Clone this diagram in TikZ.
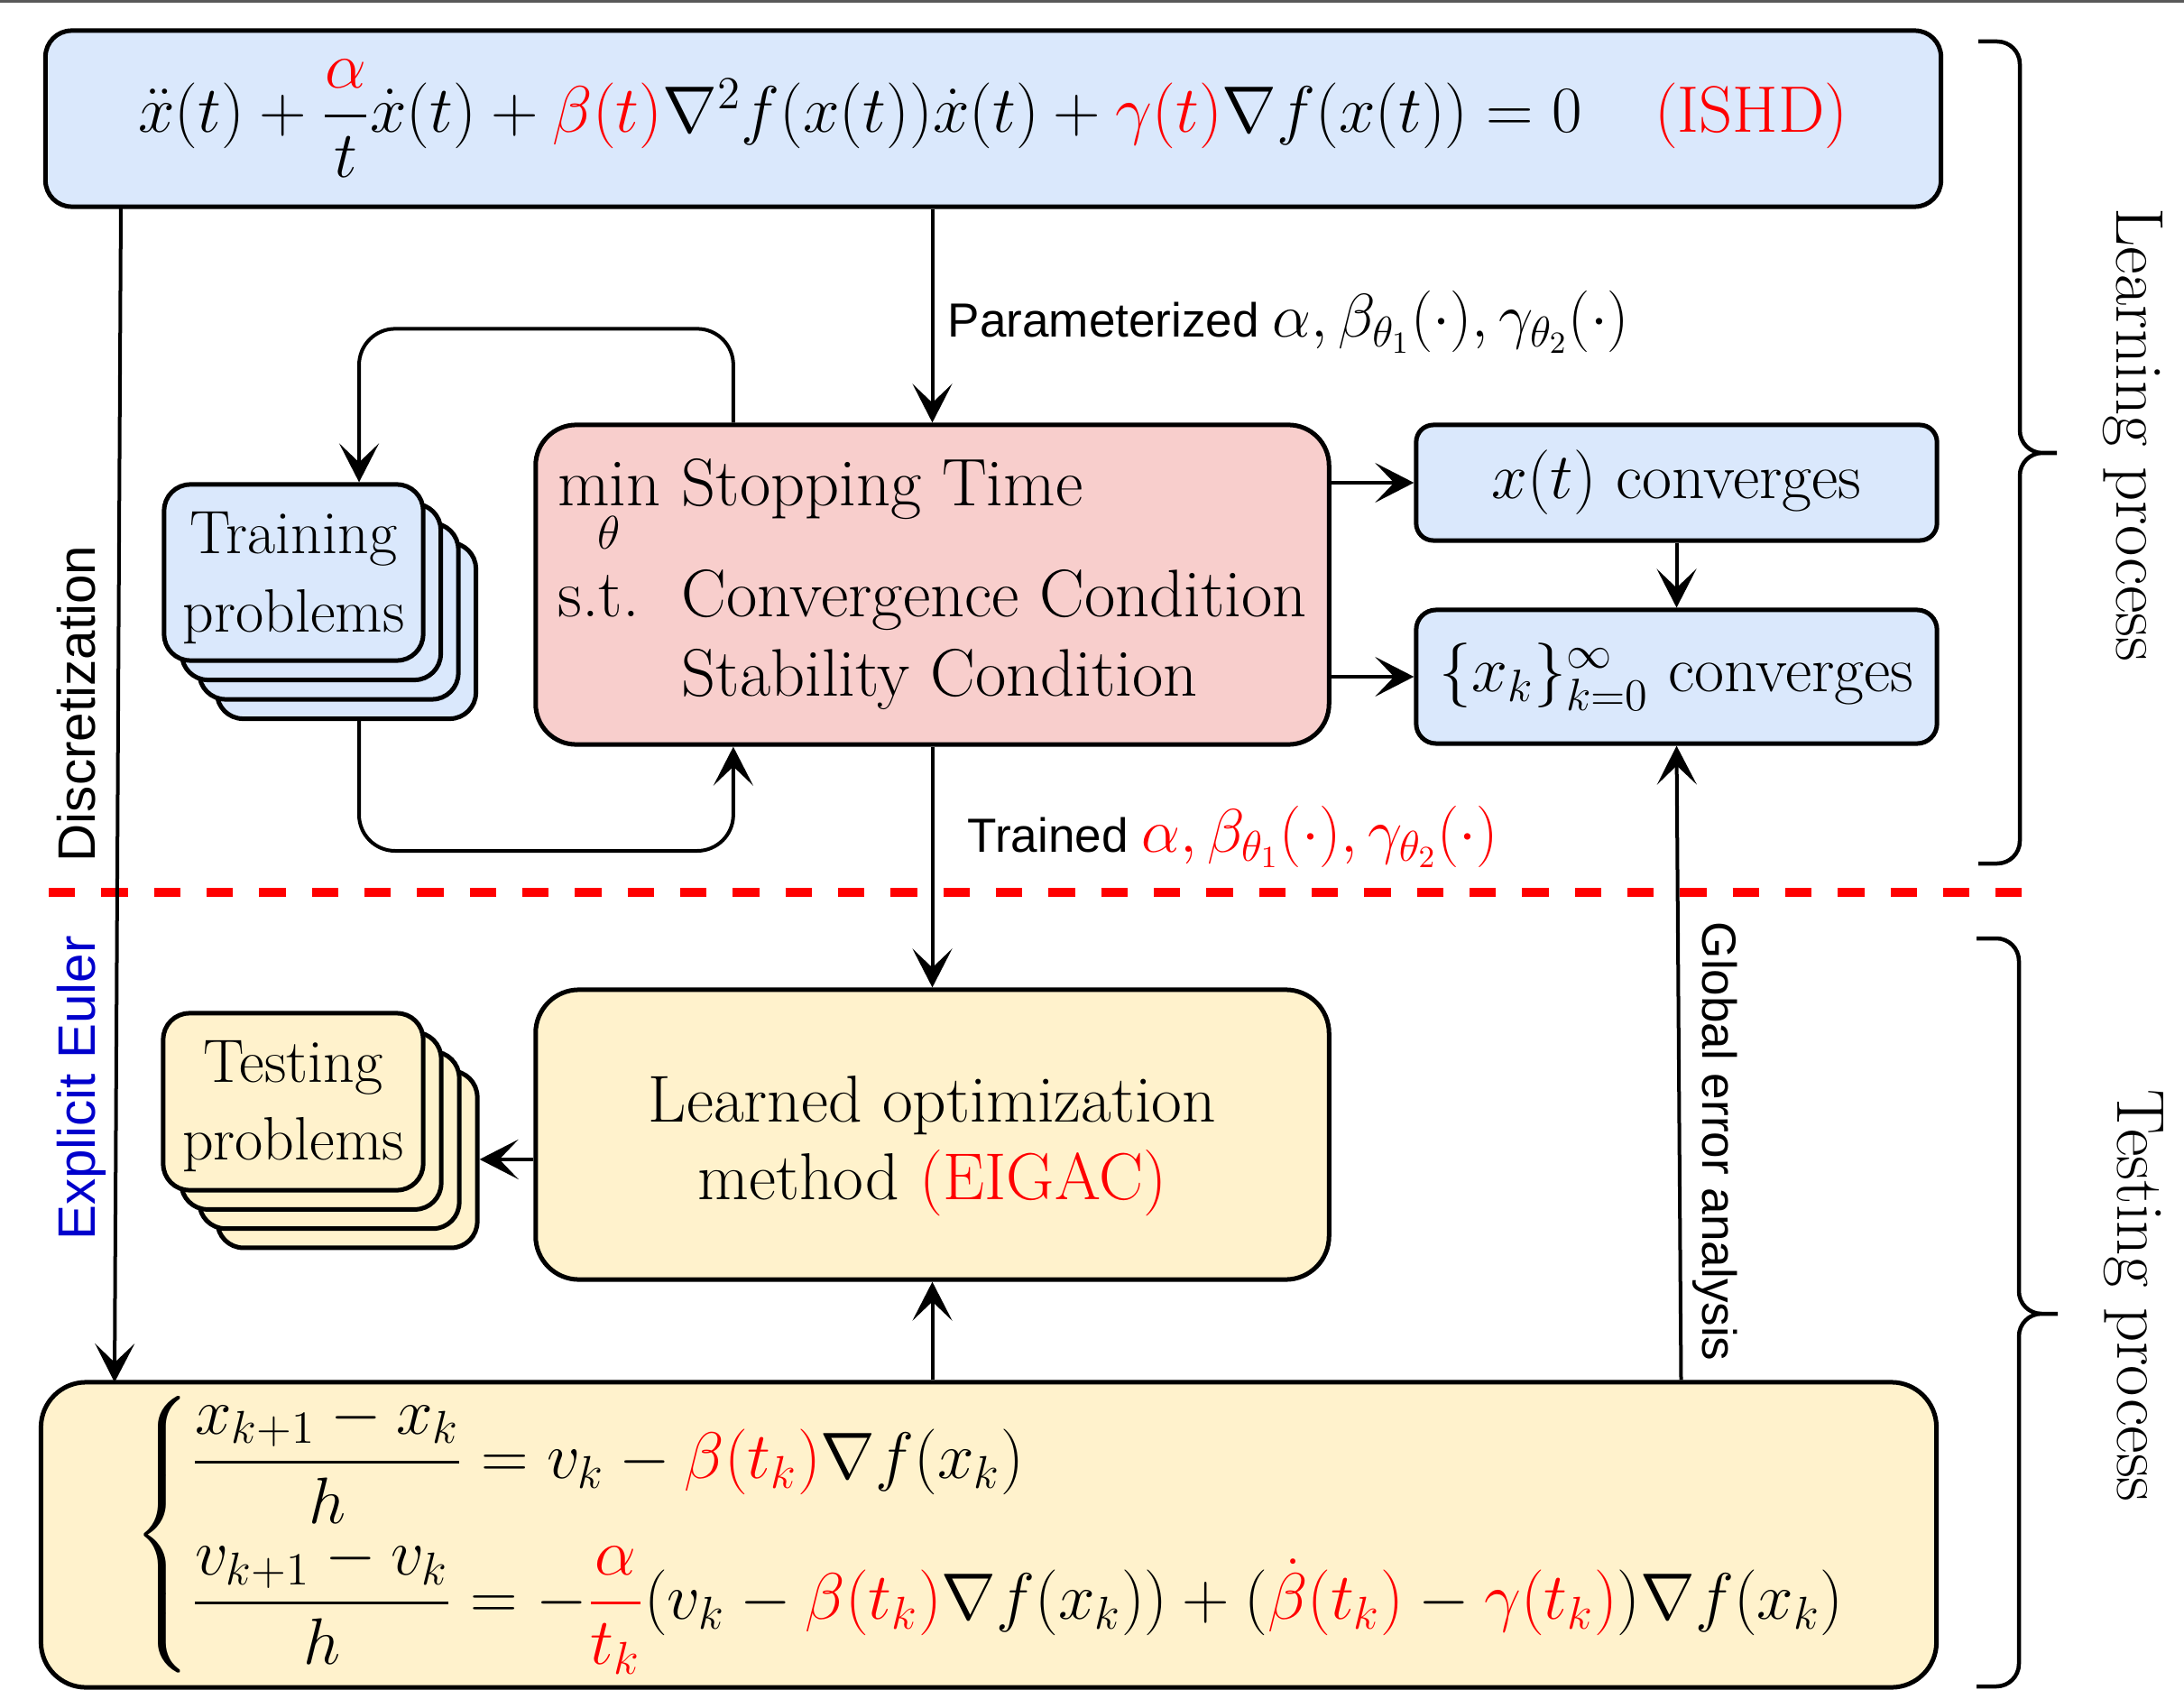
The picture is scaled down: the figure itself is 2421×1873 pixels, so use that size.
\RequirePackage{fix-cm}
\documentclass[tikz,border=0pt]{standalone}
\usepackage{amsmath}
\usepackage{fontspec}
\setsansfont{Liberation Sans}
\usetikzlibrary{arrows.meta,calc}

\definecolor{bluefill}{HTML}{DAE8FC}
\definecolor{pinkfill}{HTML}{F8CECC}
\definecolor{yellowfill}{HTML}{FFF2CC}
\definecolor{eqred}{HTML}{FF0000}
\definecolor{eulerblue}{HTML}{0000CC}

\newcommand{\fsEq}{\fontsize{20.7}{25}\selectfont}
\newcommand{\fsOpt}{\fontsize{21.2}{25}\selectfont}
\newcommand{\fsConv}{\fontsize{20.4}{25}\selectfont}
\newcommand{\fsLearned}{\fontsize{20.9}{24.6}\selectfont}
\newcommand{\fsPhase}{\fontsize{21.3}{25}\selectfont}
\newcommand{\fsCard}{\fontsize{19.3}{24.6}\selectfont}
\newcommand{\fsLabel}{\fontsize{15.1}{18}\selectfont}
\newcommand{\fsLabelMath}{\fontsize{19.4}{20}\selectfont}
\newcommand{\fsSide}{\fontsize{16.6}{20}\selectfont}

\tikzset{
  box/.style={draw=black, line width=0.05cm, inner sep=0pt, align=center},
  card/.style={box, font=\fsCard, minimum width=2.87cm, minimum height=1.95cm, rounded corners=0.29cm},
  flowarrow/.style={-{Stealth[length=0.43cm,width=0.44cm,inset=0.21cm]}, line width=0.04cm},
  bracepath/.style={line width=0.045cm, rounded corners=0.25cm},
  sidelabel/.style={font=\fsSide\sffamily, inner sep=0pt},
  edgelabel/.style={font=\fsLabel\sffamily, inner sep=0pt},
  phaselabel/.style={font=\fsPhase, inner sep=0pt, rotate=-90, anchor=base}
}

\begin{document}
\begin{tikzpicture}[x=0.01cm, y=-0.01cm]
\useasboundingbox (0,0) rectangle (2421,1873);

% thin rule along the top edge
\draw[line width=0.03cm, black!65] (0,1.5) -- (2421,1.5);

% separator between learning and testing
\draw[eqred, line width=0.1cm, dash pattern=on 0.293cm off 0.29cm] (54,989) -- (2241,989);

% ---------- learning part ----------
\node[box, fill=bluefill, rounded corners=0.29cm, minimum width=21cm, minimum height=1.95cm] (ishd) at (1101,131.5)
  {\fsEq $\ddot{x}(t)+\dfrac{\textcolor{eqred}{\alpha}}{t}\dot{x}(t)+\textcolor{eqred}{\beta(t)}\nabla^2 f(x(t))\dot{x}(t)+\textcolor{eqred}{\gamma(t)}\nabla f(x(t))=0$\hspace{1.1em}\textcolor{eqred}{(ISHD)}};

\node[box, fill=pinkfill, font=\fsOpt, rounded corners=0.45cm, minimum width=8.79cm, minimum height=3.54cm] (opt) at (1033.5,648)
  {\begin{tabular}{@{}l@{\hspace{0.23cm}}l@{}}
    $\min\limits_{\theta}$ & Stopping Time\\[0.35cm]
    s.t. & Convergence Condition\\
         & Stability Condition
  \end{tabular}};

\node[box, fill=bluefill, font=\fsConv, rounded corners=0.19cm, minimum width=5.77cm, minimum height=1.28cm] (xt) at (1858.5,535)
  {$x(t)$ converges};
\node[box, fill=bluefill, font=\fsConv, rounded corners=0.22cm, minimum width=5.77cm, minimum height=1.48cm] (xk) at (1858.5,750)
  {$\{x_k\}_{k=0}^{\infty}$ converges};

% stack of training problems
\foreach \i in {3,2,1}
  \node[card, fill=bluefill] (train\i) at (325.5+19.5*\i, 634.5+21.5*\i) {};
\node[card, fill=bluefill] (train0) at (325.5,634.5) {\rule{0pt}{0.58cm}Training\\problems};

% ---------- testing part ----------
\node[box, fill=yellowfill, font=\fsLearned, rounded corners=0.48cm, minimum width=8.79cm, minimum height=3.21cm] (learned) at (1033.5,1257.5)
  {\rule{0pt}{0.76cm}Learned optimization\\method \textcolor{eqred}{(EIGAC)}};

\foreach \i in {3,2,1}
  \node[card, fill=yellowfill, minimum width=2.88cm, minimum height=1.96cm] (test\i) at (325+20*\i, 1221+21.3*\i) {};
\node[card, fill=yellowfill, minimum width=2.88cm, minimum height=1.96cm] (test0) at (325,1221) {\rule{0pt}{0.56cm}Testing\\problems};

\node[box, fill=yellowfill, rounded corners=0.5cm, minimum width=21cm, minimum height=3.38cm] (euler) at (1096,1701)
  {\hspace*{0.76cm}\fsEq $\begin{cases}
     \dfrac{x_{k+1}-x_k}{h}=v_k-\textcolor{eqred}{\beta(t_k)}\nabla f(x_k)\\[0.33cm]
     \dfrac{v_{k+1}-v_k}{h}=-\textcolor{eqred}{\dfrac{\alpha}{t_k}}(v_k-\textcolor{eqred}{\beta(t_k)}\nabla f(x_k))+(\textcolor{eqred}{\dot{\beta}(t_k)}-\textcolor{eqred}{\gamma(t_k)})\nabla f(x_k)
   \end{cases}$};

% ---------- connectors ----------
\draw[flowarrow] (ishd.south -| opt.north) -- (opt.north);
\draw[flowarrow] (opt.south) -- (learned.north);
\draw[flowarrow] (euler.north -| learned.south) -- (learned.south);
\draw[flowarrow] (opt.east |- xt.west) -- (xt.west);
\draw[flowarrow] (opt.east |- xk.west) -- (xk.west);
\draw[flowarrow] (xt.south) -- (xk.north);
\draw[flowarrow] (learned.west |- test3.east) -- (test3.east);

\coordinate (geaStart) at ($(euler.north -| xk.south)+(5,0)$);
\draw[flowarrow] (geaStart) -- (xk.south);

\coordinate (discStart) at (134,229);
\coordinate (discEnd) at (127,1532);
\draw[flowarrow] (discStart) -- (discEnd);

% training loop
\draw[flowarrow, rounded corners=0.4cm] ([xshift=-2.205cm]opt.north) -- ++(0,-104) -| ([xshift=0.725cm]train0.north);
\draw[flowarrow, rounded corners=0.4cm] ([xshift=0.14cm]train3.south) -- (398,943) -| ([xshift=-2.205cm]opt.south);

% ---------- labels ----------
\node[edgelabel, anchor=base west] (plabel) at (1050,374)
  {Parameterized {\fsLabelMath$\alpha,\beta_{\theta_1}(\cdot),\gamma_{\theta_2}(\cdot)$}};
\node[edgelabel, anchor=base west] (tlabel) at (1072,944)
  {Trained {\fsLabelMath\color{eqred}$\alpha,\beta_{\theta_1}(\cdot),\gamma_{\theta_2}(\cdot)$}};
\node[edgelabel, rotate=-90, anchor=base west] (glabel) at (1887,1021) {Global error analysis};

\node[sidelabel, rotate=90, anchor=base] (dlabel) at (105,780) {Discretization};
\node[sidelabel, rotate=90, anchor=base, text=eulerblue] (elabel) at (105,1206) {Explicit Euler};

% ---------- phase braces ----------
\draw[bracepath] (2193,46) -- (2239,46) -- (2239,502) -- (2280,502)
                 (2280,502) -- (2239,502) -- (2239,957) -- (2193,957);
\draw[bracepath] (2191,1040) -- (2238,1040) -- (2238,1456) -- (2281,1456)
                 (2281,1456) -- (2238,1456) -- (2238,1869) -- (2191,1869);
\node[phaselabel] (lplabel) at (2346,482) {Learning process};
\node[phaselabel] (tplabel) at (2347,1436) {Testing process};
\end{tikzpicture}
\end{document}
